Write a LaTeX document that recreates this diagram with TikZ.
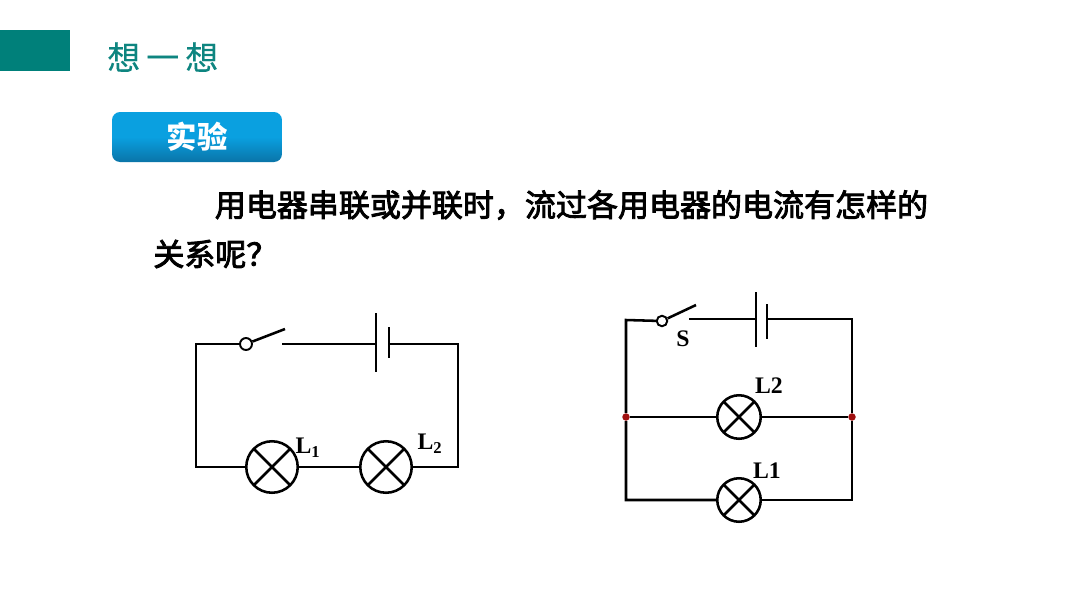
\documentclass[tikz,border=0pt]{standalone}
\usepackage{fontspec}
\setmainfont{Liberation Serif}
\newfontfamily\cjk{Noto Sans CJK SC}
\newfontfamily\cjkhead[FakeBold=0.4]{Noto Sans CJK SC}
\newfontfamily\cjkbody[FakeBold=2.8]{Noto Sans CJK SC}
\definecolor{barteal}{HTML}{00807A}
\definecolor{titleteal}{HTML}{0E8580}
\definecolor{btntop}{HTML}{0AA0E0}
\definecolor{btnbot}{HTML}{0A74A8}
\definecolor{dotred}{HTML}{A01010}

\begin{document}
\begin{tikzpicture}[
x=0.02cm, y=-0.02cm,
wire/.style = {line width=1.45pt},
lamp/.style = {circle, draw, line width=1.45pt, inner sep=0pt, minimum size=#1,
    path picture={\draw[line width=1.45pt] (path picture bounding box.north west) -- (path picture bounding box.south east)
        (path picture bounding box.north east) -- (path picture bounding box.south west);}},
pivot/.style = {circle, draw, fill=white, line width=1.1pt, inner sep=0pt, minimum size=#1},
junction/.style = {circle, fill=dotred, inner sep=0pt, minimum size=0.15cm},
tag/.style = {font=\bfseries\fontsize{13.5}{15}\selectfont, inner sep=0pt},
body/.style = {anchor=west, inner sep=0pt, font=\cjkbody\fontsize{17.65}{20}\selectfont}
                        ]
\useasboundingbox (0,0) rectangle (1066,600);

% header
\fill[barteal] (0,30) rectangle (70,71);
\node[anchor=west, inner sep=0pt, text=titleteal, font=\cjkhead\fontsize{18.7}{20}\selectfont] (title) at (107,57)
    {想\hspace{3.5pt}一\hspace{3.5pt}想};
\node[rounded corners=0.16cm, top color=btntop, bottom color=btnbot, middle color=btntop,
    minimum width=3.4cm, minimum height=1cm, inner sep=0pt,
    text=white, font=\cjk\bfseries\fontsize{17.3}{20}\selectfont] (btn) at (197,137) {\raisebox{-1pt}{实验}};
\node[body] (line1) at (214.5,205) {用电器串联或并联时，流过各用电器的电流有怎样的};
\node[body] (line2) at (153,254) {关系呢？};

% series circuit
\coordinate (a1) at (196,344);
\coordinate (a2) at (458,344);
\coordinate (a3) at (458,467);
\coordinate (a4) at (196,467);
\coordinate (ablade) at (285,329);
\coordinate (acontact) at (282,344);
\coordinate (along1) at (376,313);
\coordinate (along2) at (376,372);
\coordinate (along) at (376,344);
\coordinate (ashort1) at (389,327);
\coordinate (ashort2) at (389,358);
\coordinate (ashort) at (389,344);
\node[lamp=1.03cm] (LA) at (272,467) {};
\node[lamp=1.03cm] (LB) at (386,467) {};
\node[pivot=0.24cm] (SA) at (246,344) {};
\draw[wire] (SA) -- (a1) -- (a4) -- (LA);
\draw[wire] (LA) -- (LB);
\draw[wire] (LB) -- (a3) -- (a2) -- (ashort);
\draw[wire] (acontact) -- (along);
\draw[wire] (SA) -- (ablade);
\draw[wire] (along1) -- (along2);
\draw[wire] (ashort1) -- (ashort2);
\node[tag] (ta) at (308,448) {L\textsubscript{1}};
\node[tag] (tb) at (430,444) {L\textsubscript{2}};

% parallel circuit
\coordinate (b1) at (626,320);
\coordinate (b2) at (852,319);
\coordinate (b3) at (852,500);
\coordinate (b4) at (626,500);
\coordinate (bblade) at (696,305);
\coordinate (bcontact) at (689,319);
\coordinate (blong1) at (756,292);
\coordinate (blong2) at (756,347);
\coordinate (blong) at (756,319);
\coordinate (bshort1) at (767,304);
\coordinate (bshort2) at (767,339);
\coordinate (bshort) at (767,319);
\node[junction] (JL) at (626,417) {};
\node[junction] (JR) at (852,417) {};
\node[lamp=0.87cm] (LC) at (739,417) {};
\node[lamp=0.87cm] (LD) at (739,500) {};
\node[pivot=0.21cm] (SB) at (662,321) {};
\draw[wire] (SB) -- (b1) -- (JL) -- (b4) -- (LD);
\draw[wire] (LD) -- (b3) -- (JR) -- (b2) -- (bshort);
\draw[wire] (JL) -- (LC);
\draw[wire] (LC) -- (JR);
\draw[wire] (bcontact) -- (blong);
\draw[wire] (SB) -- (bblade);
\draw[wire] (blong1) -- (blong2);
\draw[wire] (bshort1) -- (bshort2);
\node[tag] (tc) at (683,339) {S};
\node[tag] (td) at (769,386) {L2};
\node[tag] (te) at (767,471) {L1};
\end{tikzpicture}
\end{document}
